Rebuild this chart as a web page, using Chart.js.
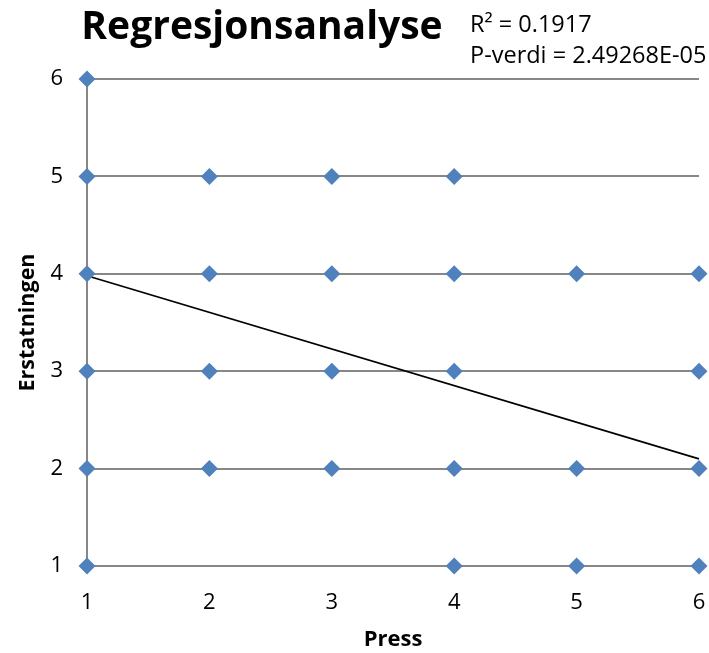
<!DOCTYPE html>
<html>
<head>
<meta charset="utf-8">
<script src="https://cdn.jsdelivr.net/npm/chart.js@4"></script>
<style>
  body { margin: 0; background: #fff; }
</style>
</head>
<body>
<canvas id="regChart" width="709" height="653"></canvas>
<script>
const pressX = [1, 1, 1, 1, 1, 1, 2, 2, 2, 2, 3, 3, 3, 3, 4, 4, 4, 4, 4, 5, 5, 5, 6, 6, 6, 6];
const erstatY = [1, 2, 3, 4, 5, 6, 2, 3, 4, 5, 2, 3, 4, 5, 1, 2, 3, 4, 5, 1, 2, 4, 1, 2, 3, 4];

// linear trend line ends
const trendX = [1, 6];
const trendY = [3.98, 2.10];

const axisTicks = [1, 2, 3, 4, 5, 6];
const statLines = ['R\u00b2 = 0.1917', 'P-verdi = 2.49268E-05'];

const FONT = '"Open Sans", sans-serif';

// title + stats text
const headerText = {
    id: 'headerText',
    afterDraw(chart) {
        const ctx = chart.ctx;
        ctx.save();
        ctx.fillStyle = '#000';
        ctx.textBaseline = 'alphabetic';
        ctx.font = 'bold 39px ' + FONT;
        ctx.textAlign = 'center';
        ctx.fillText('Regresjonsanalyse', 262, 39);
        ctx.font = '23.5px ' + FONT;
        ctx.textAlign = 'left';
        ctx.fillText(statLines[0], 470, 32);
        ctx.fillText(statLines[1], 470, 63);
        ctx.restore();
    }
};

new Chart(document.getElementById('regChart'), {
    type: 'scatter',
    data: {
        datasets: [{
            label: 'Erstatningen',
            data: pressX.map((x, i) => ({ x: x, y: erstatY[i] })),
            pointStyle: 'rectRot',
            pointRadius: 8.5,
            pointHoverRadius: 8.5,
            backgroundColor: '#4f81bd',
            borderColor: '#4f81bd',
            borderWidth: 0,
            clip: false,
            order: 1
        }, {
            label: 'Trend',
            type: 'line',
            data: trendX.map((x, i) => ({ x: x, y: trendY[i] })),
            borderColor: '#000',
            borderWidth: 1.75,
            pointRadius: 0,
            fill: false,
            clip: false,
            order: 2
        }]
    },
    options: {
        responsive: false,
        animation: false,
        devicePixelRatio: 1,
        layout: { padding: { top: 79, right: 10, bottom: 0, left: 0 } },
        plugins: {
            legend: { display: false },
            tooltip: { enabled: false },
            title: { display: false }
        },
        scales: {
            x: {
                type: 'linear',
                min: 1,
                max: 6,
                afterBuildTicks: axis => { axis.ticks = axisTicks.map(v => ({ value: v })); },
                afterFit: axis => { axis.height = 87; axis.paddingRight = 10; },
                grid: { display: false, drawTicks: false },
                border: { display: false },
                ticks: { color: '#000', font: { family: FONT, size: 22 }, padding: 24 },
                title: { display: true, text: 'Press', color: '#000', font: { family: FONT, size: 22, weight: 'bold' }, padding: { top: 0, bottom: 0 } }
            },
            y: {
                type: 'linear',
                min: 1,
                max: 6,
                afterBuildTicks: axis => { axis.ticks = axisTicks.map(v => ({ value: v })); },
                afterFit: axis => { axis.width = 87; },
                grid: { color: '#878787', lineWidth: 2, drawTicks: false },
                border: { display: true, color: '#878787', width: 2 },
                ticks: { color: '#000', font: { family: FONT, size: 22 }, padding: 24 },
                title: { display: true, text: 'Erstatningen', color: '#000', font: { family: FONT, size: 21.5, weight: 'bold' }, padding: { top: 15, bottom: 0 } }
            }
        }
    },
    plugins: [headerText]
});
</script>
</body>
</html>
